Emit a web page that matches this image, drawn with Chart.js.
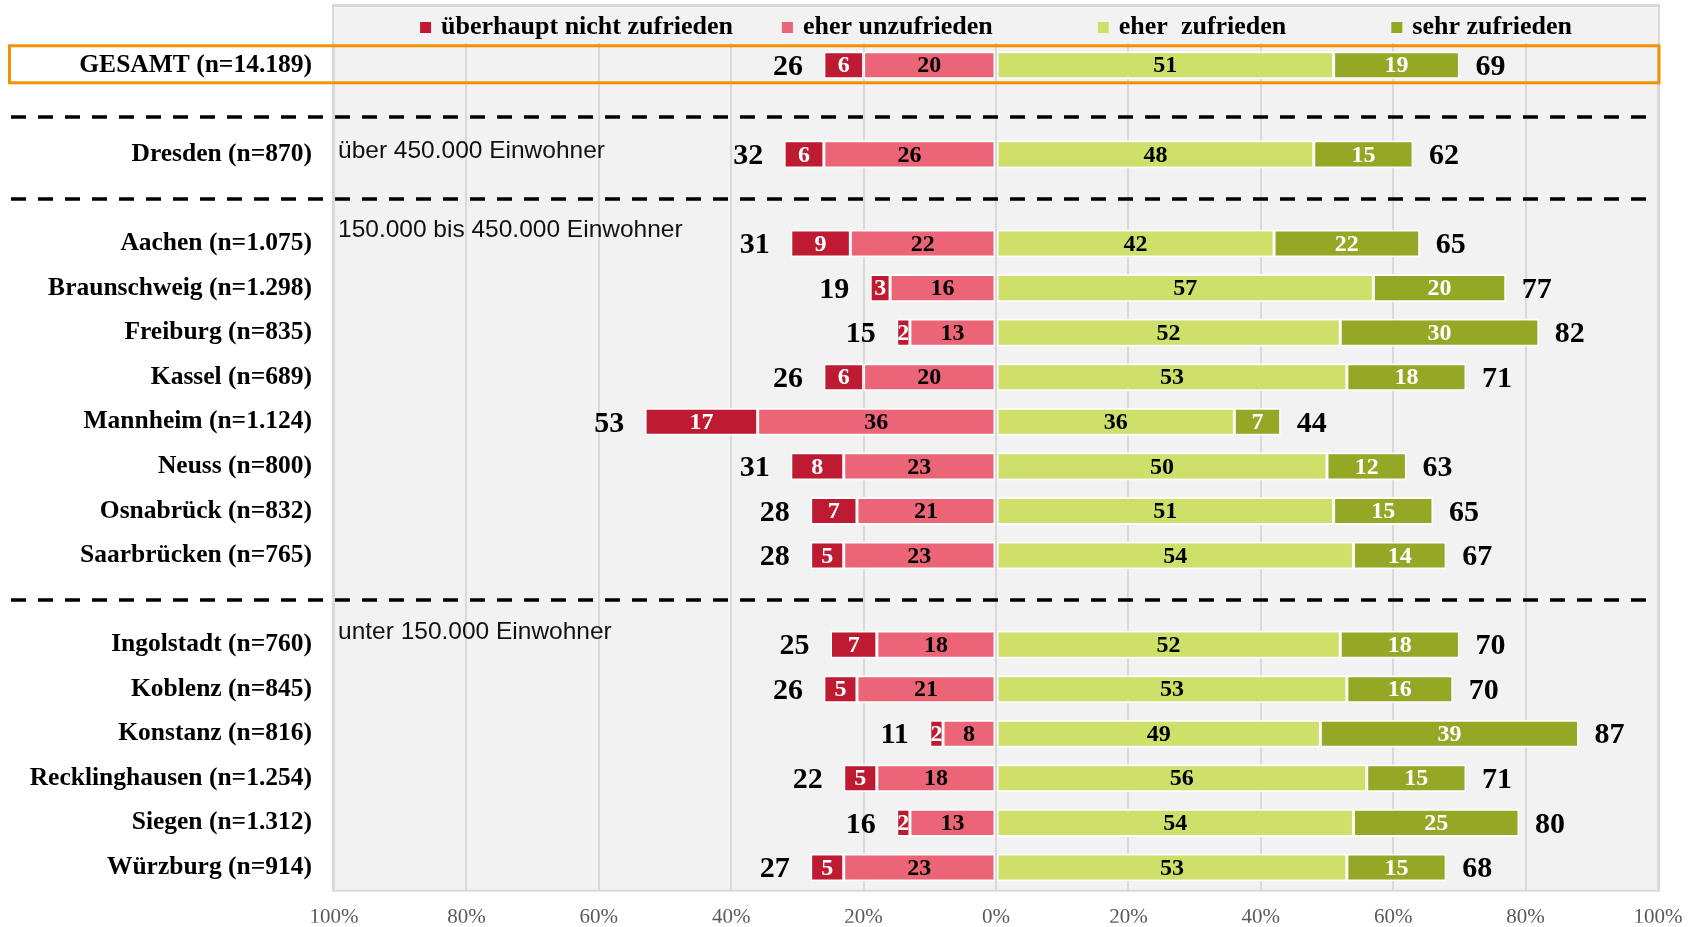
<!DOCTYPE html>
<html>
<head>
<meta charset="utf-8">
<script src="https://cdn.jsdelivr.net/npm/chart.js@4"></script>
<style>
  body { margin: 0; background: #fff; }
</style>
</head>
<body>
<canvas id="chart" width="1698" height="927"></canvas>
<script>
// rows, empty strings are the gaps between the city groups
const categories = [
  "GESAMT (n=14.189)", "", "Dresden (n=870)", "",
  "Aachen (n=1.075)", "Braunschweig (n=1.298)", "Freiburg (n=835)", "Kassel (n=689)",
  "Mannheim (n=1.124)", "Neuss (n=800)", "Osnabrück (n=832)", "Saarbrücken (n=765)", "",
  "Ingolstadt (n=760)", "Koblenz (n=845)", "Konstanz (n=816)", "Recklinghausen (n=1.254)",
  "Siegen (n=1.312)", "Würzburg (n=914)"
];

const sehrUnzufrieden = [6, null, 6, null, 9, 3, 2, 6, 17, 8, 7, 5, null, 7, 5, 2, 5, 2, 5];
const eherUnzufrieden = [20, null, 26, null, 22, 16, 13, 20, 36, 23, 21, 23, null, 18, 21, 8, 18, 13, 23];
const eherZufrieden = [51, null, 48, null, 42, 57, 52, 53, 36, 50, 51, 54, null, 52, 53, 49, 56, 54, 53];
const sehrZufrieden = [19, null, 15, null, 22, 20, 30, 18, 7, 12, 15, 14, null, 18, 16, 39, 15, 25, 15];

const totalUnzufrieden = [26, null, 32, null, 31, 19, 15, 26, 53, 31, 28, 28, null, 25, 26, 11, 22, 16, 27];
const totalZufrieden = [69, null, 62, null, 65, 77, 82, 71, 44, 63, 65, 67, null, 70, 70, 87, 71, 80, 68];

const xTicks = [-100, -80, -60, -40, -20, 0, 20, 40, 60, 80, 100];

const groupRows = [2, 4, 13];
const groupTexts = ["über 450.000 Einwohner", "150.000 bis 450.000 Einwohner", "unter 150.000 Einwohner"];
const dividerRows = [1.17, 3, 12];
const highlightRow = 0;

const serif = "'Liberation Serif', 'Times New Roman', serif";
const sans = "'Liberation Sans', Arial, sans-serif";

const colDarkRed = "#be1a32";
const colPink = "#ec6577";
const colLightGreen = "#cfe06a";
const colDarkGreen = "#95a825";

const neg = arr => arr.map(v => v == null ? null : -v);

// stacking goes outward from 0 in dataset order, so pink comes before dark red
const datasets = [
  { label: "eher unzufrieden", data: neg(eherUnzufrieden), backgroundColor: colPink, textColor: "#000" },
  { label: "überhaupt nicht zufrieden", data: neg(sehrUnzufrieden), backgroundColor: colDarkRed, textColor: "#fff" },
  { label: "eher  zufrieden", data: eherZufrieden, backgroundColor: colLightGreen, textColor: "#000" },
  { label: "sehr zufrieden", data: sehrZufrieden, backgroundColor: colDarkGreen, textColor: "#fff" }
];
datasets.forEach(ds => {
  ds.borderColor = "#fff";
  ds.borderWidth = { top: 2, bottom: 2, left: 1.5, right: 1.5 };
  ds.borderSkipped = false;
  ds.barPercentage = 0.63;
  ds.categoryPercentage = 1;
});
const legendOrder = [1, 0, 2, 3];

const panelPlugin = {
  id: "panel",
  beforeDraw(chart) {
    const { ctx, chartArea: a } = chart;
    ctx.save();
    ctx.fillStyle = "#f2f2f2";
    ctx.fillRect(a.left - 1, 5, a.right - a.left + 2, a.bottom - 4);
    ctx.strokeStyle = "#d9d9d9";
    ctx.lineWidth = 2;
    ctx.strokeRect(a.left - 1, 6, a.right - a.left + 2, a.bottom - 5);
    ctx.lineWidth = 3;
    ctx.beginPath();
    ctx.moveTo(a.left - 2, 5.5);
    ctx.lineTo(a.right + 2, 5.5);
    ctx.stroke();
    ctx.restore();
  }
};

const labelPlugin = {
  id: "barLabels",
  afterDatasetsDraw(chart) {
    const ctx = chart.ctx;
    ctx.save();
    ctx.textAlign = "center";
    ctx.textBaseline = "middle";
    ctx.font = "bold 24px " + serif;
    chart.data.datasets.forEach((ds, i) => {
      const meta = chart.getDatasetMeta(i);
      meta.data.forEach((el, j) => {
        const v = ds.data[j];
        if (v == null) return;
        ctx.fillStyle = ds.textColor;
        ctx.fillText(String(Math.abs(v)), (el.x + el.base) / 2, el.y + 1);
      });
    });
    // totals beside the outer segments
    ctx.font = "bold 30px " + serif;
    ctx.fillStyle = "#000";
    const outerNeg = chart.getDatasetMeta(1);
    const outerPos = chart.getDatasetMeta(3);
    totalUnzufrieden.forEach((t, j) => {
      if (t == null) return;
      const el = outerNeg.data[j];
      ctx.textAlign = "right";
      ctx.fillText(String(t), el.x - 21, el.y + 2);
    });
    totalZufrieden.forEach((t, j) => {
      if (t == null) return;
      const el = outerPos.data[j];
      ctx.textAlign = "left";
      ctx.fillText(String(t), el.x + 16, el.y + 2);
    });
    ctx.restore();
  }
};

const decoPlugin = {
  id: "deco",
  afterDraw(chart) {
    const { ctx, chartArea: a } = chart;
    const y = chart.scales.y;
    ctx.save();

    // group captions, sitting a little above their first row
    const captionShift = [-3, -13, -12];
    ctx.font = "24.5px " + sans;
    ctx.fillStyle = "#111";
    ctx.textAlign = "left";
    ctx.textBaseline = "middle";
    groupRows.forEach((r, i) => {
      ctx.fillText(groupTexts[i], a.left + 4, y.getPixelForValue(r) + captionShift[i]);
    });

    // dashed separators
    ctx.strokeStyle = "#000";
    ctx.lineWidth = 3.5;
    ctx.setLineDash([15, 12]);
    dividerRows.forEach(r => {
      const py = Math.round(y.getPixelForValue(r));
      ctx.beginPath();
      ctx.moveTo(11, py);
      ctx.lineTo(a.right - 6, py);
      ctx.stroke();
    });
    ctx.setLineDash([]);

    // orange frame round the total row
    const hy = y.getPixelForValue(highlightRow);
    ctx.strokeStyle = "#f39200";
    ctx.lineWidth = 3;
    ctx.strokeRect(9.5, hy - 19.5, a.right + 1 - 9.5, 37);

    // legend in the top band
    ctx.font = "bold 26px " + serif;
    const gaps = [49, 105, 105];
    const items = legendOrder.map(i => {
      const ds = chart.data.datasets[i];
      return { ds, w: 21 + ctx.measureText(ds.label).width };
    });
    const total = items.reduce((s, it) => s + it.w, 0) + gaps.reduce((s, g) => s + g, 0);
    let x = (a.left + a.right) / 2 - total / 2;
    items.forEach((it, k) => {
      ctx.fillStyle = it.ds.backgroundColor;
      ctx.fillRect(x, 22, 11, 11);
      ctx.fillStyle = "#000";
      ctx.textAlign = "left";
      ctx.fillText(it.ds.label, x + 21, 27);
      x += it.w + (gaps[k] || 0);
    });
    ctx.restore();
  }
};

new Chart(document.getElementById("chart"), {
  type: "bar",
  data: { labels: categories, datasets: datasets },
  options: {
    indexAxis: "y",
    responsive: false,
    animation: false,
    devicePixelRatio: 1,
    layout: { padding: { top: 43, right: 40, bottom: 0, left: 0 } },
    plugins: { legend: { display: false }, tooltip: { enabled: false } },
    scales: {
      x: {
        stacked: true,
        min: -100,
        max: 100,
        afterBuildTicks: scale => { scale.ticks = xTicks.map(v => ({ value: v })); },
        afterFit: scale => { scale.height = 33; },
        grid: { color: "#d9d9d9", lineWidth: 2, drawTicks: false },
        border: { display: false },
        ticks: {
          padding: 15,
          color: "#595959",
          font: { family: serif, size: 21 },
          callback: v => Math.abs(v) + "%"
        }
      },
      y: {
        stacked: true,
        afterFit: scale => { scale.width = 334; },
        grid: { display: false, drawTicks: false },
        border: { display: false },
        ticks: {
          autoSkip: false,
          padding: 22,
          color: "#000",
          font: { family: serif, size: 25.5, weight: "bold" }
        }
      }
    }
  },
  plugins: [panelPlugin, labelPlugin, decoPlugin]
});
</script>
</body>
</html>
